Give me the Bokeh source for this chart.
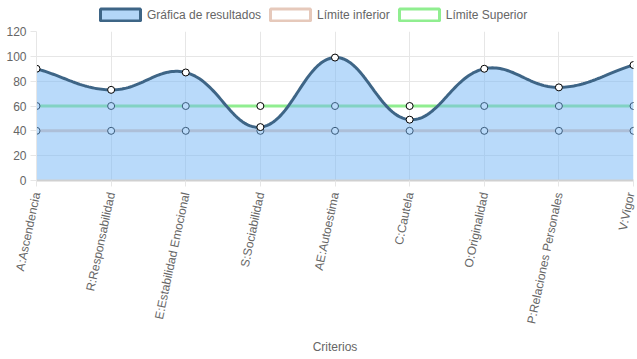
import numpy as np
from bokeh.plotting import figure
from bokeh.layouts import column
from bokeh.models import Range1d, Legend, LegendItem, ColumnDataSource, FixedTicker
from bokeh.embed import file_html
from bokeh.resources import INLINE

categories = ["A:Ascendencia", "R:Responsabilidad", "E:Estabilidad Emocional",
              "S:Sociabilidad", "AE:Autoestima", "C:Cautela", "O:Originalidad",
              "P:Relaciones Personales", "V:Vigor"]
resultados = [90, 73, 87, 43, 99, 49, 90, 75, 93]
limite_inferior = [40, 40, 40, 40, 40, 40, 40, 40, 40]
limite_superior = [60, 60, 60, 60, 60, 60, 60, 60, 60]
y_ticks = [0, 20, 40, 60, 80, 100, 120]

FONT = "Liberation Sans"
GREY = "#666666"
FILL = "#b3d6f7"
LINE = "#3e6586"
LOW = "#e6c9bb"
HIGH = "#90ee90"

W, H = 637, 359
LH = 23
p = figure(width=W, height=H - LH, output_backend="svg", toolbar_location=None,
           x_range=Range1d(0, len(categories) - 1), y_range=Range1d(0, 120),
           min_border_left=36, min_border_right=4, min_border_top=8,
           min_border_bottom=179,
           outline_line_color=None, background_fill_color="white")

xs = list(range(len(categories)))

# Chart.js-like spline (tension 0.4) computed in pixel space
sx, sy = 74.6, 1.242
def spline(vals, t=0.4):
    px = np.array(xs, float) * sx
    py = np.array(vals, float) * sy
    n = len(px)
    cp_prev, cp_next = [], []
    for i in range(n):
        pi_ = max(i - 1, 0); ni = min(i + 1, n - 1)
        d01 = np.hypot(px[i] - px[pi_], py[i] - py[pi_])
        d12 = np.hypot(px[ni] - px[i], py[ni] - py[i])
        tot = d01 + d12
        s01 = d01 / tot if tot else 0
        s12 = d12 / tot if tot else 0
        fa, fb = t * s01, t * s12
        cp_prev.append((px[i] - fa * (px[ni] - px[pi_]), py[i] - fa * (py[ni] - py[pi_])))
        cp_next.append((px[i] + fb * (px[ni] - px[pi_]), py[i] + fb * (py[ni] - py[pi_])))
    outx, outy = [], []
    tt = np.linspace(0, 1, 40)
    for i in range(n - 1):
        p0 = np.array([px[i], py[i]]); p3 = np.array([px[i + 1], py[i + 1]])
        p1 = np.array(cp_next[i]); p2 = np.array(cp_prev[i + 1])
        for k, u in enumerate(tt):
            if i > 0 and k == 0:
                continue
            b = ((1 - u) ** 3) * p0 + 3 * ((1 - u) ** 2) * u * p1 + 3 * (1 - u) * u * u * p2 + u ** 3 * p3
            outx.append(float(b[0] / sx)); outy.append(float(b[1] / sy))
    return outx, outy

cx, cy = spline(resultados)

# grid / axes
p.xgrid.ticker = FixedTicker(ticks=xs)
p.xgrid.grid_line_color = "#e6e6e6"
p.ygrid.grid_line_color = "#e6e6e6"

p.xaxis.ticker = FixedTicker(ticks=xs)
p.xaxis.major_label_overrides = {i: c for i, c in enumerate(categories)}
p.xaxis.major_label_orientation = float(np.deg2rad(78))
p.xaxis.axis_label = "Criterios"
p.xaxis.axis_label_text_font = FONT
p.xaxis.axis_label_text_font_style = "normal"
p.xaxis.axis_label_text_font_size = "12px"
p.xaxis.axis_label_text_color = GREY
p.xaxis.axis_label_standoff = 10
p.xaxis.axis_line_color = "#d0d0d0"
p.xaxis.axis_line_width = 2
p.xaxis.major_tick_line_color = "#e6e6e6"
p.xaxis.major_tick_out = 6
p.xaxis.major_tick_in = 0
p.xaxis.minor_tick_line_color = None
p.xaxis.major_label_standoff = 6

p.yaxis.ticker = FixedTicker(ticks=y_ticks)
p.yaxis.axis_line_color = "#e6e6e6"
p.yaxis.major_tick_line_color = "#e6e6e6"
p.yaxis.major_tick_out = 6
p.yaxis.major_tick_in = 0
p.yaxis.minor_tick_line_color = None
p.yaxis.major_label_standoff = 4

for ax in (p.xaxis, p.yaxis):
    ax.major_label_text_font = FONT
    ax.major_label_text_font_size = "12px"
    ax.major_label_text_color = GREY

# limits (drawn below the semi-transparent fill)
p.line(xs, limite_inferior, line_color=LOW, line_width=3)
p.scatter(xs, limite_inferior, size=7, fill_color="white", line_color="black", line_width=1)
p.line(xs, limite_superior, line_color=HIGH, line_width=3)
p.scatter(xs, limite_superior, size=7, fill_color="white", line_color="black", line_width=1)

# main series
p.varea(x=cx, y1=[0] * len(cx), y2=cy, fill_color="#73b5f5", fill_alpha=0.5)
p.line(cx, cy, line_color=LINE, line_width=3)
p.scatter(xs, resultados, size=7, fill_color="white", line_color="black", line_width=1)

# legend strip on top (swatch-only renderers with no visible data)
lg = figure(width=W, height=LH, output_backend="svg", toolbar_location=None,
            x_range=Range1d(0, 1), y_range=Range1d(0, 1),
            x_axis_location=None, y_axis_location=None,
            min_border=0, outline_line_color=None)
lg.grid.visible = False
empty = ColumnDataSource(dict(x=[np.nan], y=[np.nan]))
r1 = lg.rect("x", "y", 1, 1, source=empty, fill_color=FILL, line_color=LINE, line_width=3)
r2 = lg.rect("x", "y", 1, 1, source=empty, fill_color="white", line_color=LOW, line_width=3)
r3 = lg.rect("x", "y", 1, 1, source=empty, fill_color="white", line_color=HIGH, line_width=3)
legend = Legend(items=[LegendItem(label="Gráfica de resultados", renderers=[r1]),
                       LegendItem(label="Límite inferior", renderers=[r2]),
                       LegendItem(label="Límite Superior", renderers=[r3])],
                orientation="horizontal", location=(59, 1),
                glyph_width=50, glyph_height=15, label_standoff=2, spacing=4,
                padding=0, margin=0, border_line_color=None, background_fill_alpha=0,
                label_text_font=FONT, label_text_font_size="12px", label_text_color=GREY,
                label_height=15)
lg.add_layout(legend, "center")

open("out.html", "w").write(file_html(column(lg, p), INLINE))
